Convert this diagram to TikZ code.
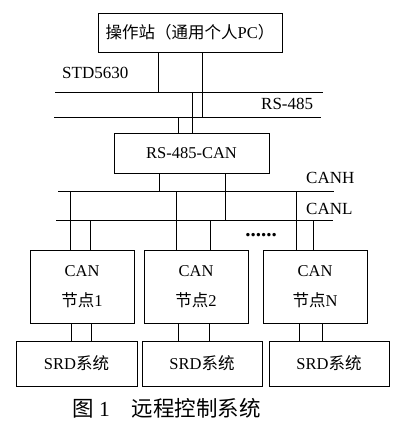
\documentclass[tikz,border=0pt]{standalone}
\usepackage{fontspec}
\setmainfont{Liberation Serif}
\newfontfamily\cjk{Noto Sans CJK SC}
\usetikzlibrary{positioning,calc}

\begin{document}
\begin{tikzpicture}[
  x=1pt,y=-1pt,
  box/.style={draw,line width=0.7pt,inner sep=0pt,align=center,font=\fontsize{16.5}{30}\selectfont},
  nodebox/.style={box,minimum width=104pt,minimum height=73pt},
  srdbox/.style={box,minimum width=120pt,minimum height=45pt},
  wire/.style={line width=0.7pt},
  lbl/.style={anchor=west,inner sep=0pt,font=\fontsize{17}{20}\selectfont}
]
\useasboundingbox (0,0) rectangle (418,434);
% operator station and converter
\node[box,minimum width=184pt,minimum height=39pt] (pc) at (190,32.5) {{\cjk 操作站（通用个人}PC{\cjk ）}};
\node[box,minimum width=155pt,minimum height=40pt] (conv) at (191.5,153) {RS-485-CAN};
% buses
\coordinate (stdL) at (55,92); \coordinate (stdR) at (323,92);
\coordinate (rsL) at (54,117); \coordinate (rsR) at (321,117);
\coordinate (canhL) at (58,191); \coordinate (canhR) at (334,191);
\coordinate (canlL) at (56,220); \coordinate (canlR) at (333,220);
\draw[wire] (stdL) -- (stdR);
\draw[wire] (rsL) -- (rsR);
\draw[wire] (canhL) -- (canhR);
\draw[wire] (canlL) -- (canlR);
\node[lbl] (stdlbl) at (62,73) {STD5630};
\node[lbl] (rslbl) at (261,104) {RS-485};
\node[lbl] (canhlbl) at (306,178) {CANH};
\node[lbl] (canllbl) at (306,209) {CANL};
\node[font=\fontsize{21}{21}\selectfont\bfseries,inner sep=0pt] (dots) at (261,235) {......};
% taps
\draw[wire] ([xshift=-32pt]pc.south) -- ([xshift=-32pt]pc.south |- stdL);
\draw[wire] ([xshift=12pt]pc.south) -- ([xshift=12pt]pc.south |- rsL);
\draw[wire] ([xshift=0.5pt]conv.north) -- ([xshift=0.5pt]conv.north |- stdL);
\draw[wire] ([xshift=-13.5pt]conv.north) -- ([xshift=-13.5pt]conv.north |- rsL);
\draw[wire] ([xshift=-32.5pt]conv.south) -- ([xshift=-32.5pt]conv.south |- canhL);
\draw[wire] ([xshift=33.5pt]conv.south) -- ([xshift=33.5pt]conv.south |- canlL);
% CAN nodes and SRD systems
\node[nodebox] (can1) at (82,286.5) {CAN\\{\cjk 节点}1};
\node[nodebox] (can2) at (196,286.5) {CAN\\{\cjk 节点}2};
\node[nodebox] (can3) at (315,286.5) {CAN\\{\cjk 节点}N};
\node[srdbox,minimum width=121pt] (srd1) at (76.5,363.5) {SRD{\cjk 系统}};
\node[srdbox] (srd2) at (202,363.5) {SRD{\cjk 系统}};
\node[srdbox] (srd3) at (329,363.5) {SRD{\cjk 系统}};
\foreach \n/\h/\l in {can1/-12/8,can2/-20/14,can3/-19/-2}{
  \draw[wire] ([xshift=\h pt]\n.north) -- ([xshift=\h pt]\n.north |- canhL);
  \draw[wire] ([xshift=\l pt]\n.north) -- ([xshift=\l pt]\n.north |- canlL);
}
\foreach \n/\s/\a/\b in {can1/srd1/-11/9,can2/srd2/-18/13,can3/srd3/-16/7}{
  \draw[wire] ([xshift=\a pt]\n.south) -- ([xshift=\a pt]\n.south |- \s.north);
  \draw[wire] ([xshift=\b pt]\n.south) -- ([xshift=\b pt]\n.south |- \s.north);
}
% caption
\node[anchor=west,inner sep=0pt,font=\fontsize{21.5}{22}\selectfont] (cap) at (72,408) {{\cjk 图}\ 1\hspace{22pt}{\cjk 远程控制系统}};
\end{tikzpicture}
\end{document}
